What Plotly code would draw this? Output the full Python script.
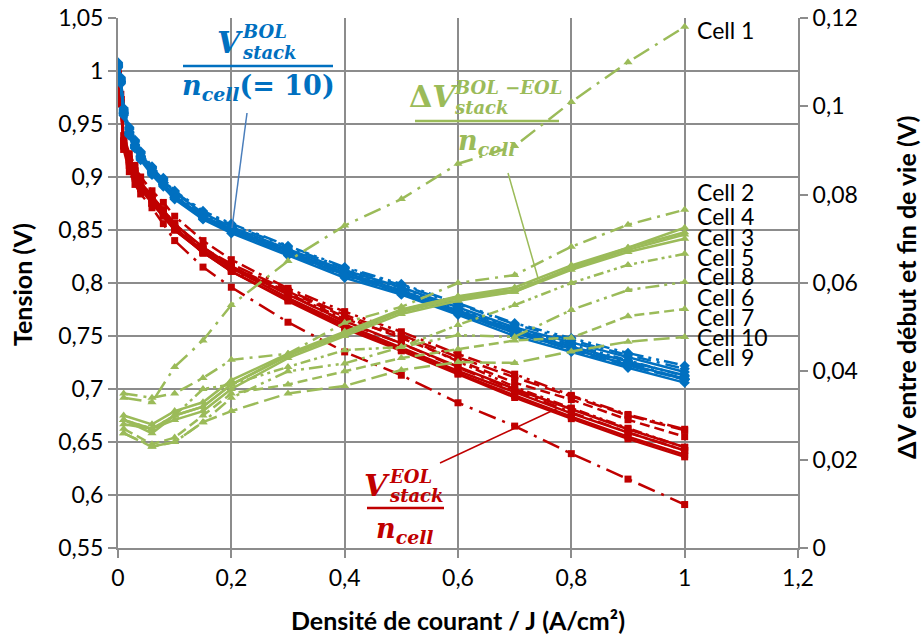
import plotly.graph_objects as go

# ---------------- data ----------------
J = [0, 0.005, 0.01, 0.02, 0.03, 0.04, 0.06, 0.08, 0.1, 0.15, 0.2, 0.3, 0.4, 0.5, 0.6, 0.7, 0.8, 0.9, 1.0]
J_DV = [0.01, 0.06, 0.1, 0.15, 0.2, 0.3, 0.4, 0.5, 0.6, 0.7, 0.8, 0.9, 1.0]

BOL_1 = [1.004, 0.990, 0.960, 0.940, 0.928, 0.918, 0.904, 0.893, 0.881, 0.862, 0.851, 0.828, 0.808, 0.792, 0.774, 0.756, 0.740, 0.725, 0.709]
BOL_2 = [1.007, 0.993, 0.964, 0.946, 0.934, 0.923, 0.909, 0.898, 0.886, 0.867, 0.855, 0.834, 0.814, 0.798, 0.780, 0.761, 0.746, 0.732, 0.719]
BOL_3 = [1.005, 0.990, 0.961, 0.942, 0.930, 0.919, 0.905, 0.894, 0.882, 0.863, 0.851, 0.830, 0.810, 0.793, 0.774, 0.755, 0.740, 0.726, 0.713]
BOL_4 = [1.004, 0.989, 0.960, 0.941, 0.929, 0.918, 0.904, 0.893, 0.881, 0.862, 0.849, 0.828, 0.808, 0.791, 0.772, 0.753, 0.738, 0.723, 0.710]
BOL_5 = [1.003, 0.988, 0.958, 0.939, 0.927, 0.916, 0.902, 0.891, 0.879, 0.860, 0.847, 0.826, 0.805, 0.789, 0.770, 0.750, 0.735, 0.720, 0.706]
BOL_6 = [1.008, 0.994, 0.965, 0.947, 0.935, 0.924, 0.910, 0.899, 0.887, 0.868, 0.856, 0.835, 0.815, 0.799, 0.781, 0.762, 0.748, 0.734, 0.722]
BOL_7 = [1.005, 0.990, 0.961, 0.942, 0.930, 0.919, 0.905, 0.893, 0.881, 0.862, 0.850, 0.829, 0.808, 0.791, 0.772, 0.753, 0.738, 0.723, 0.709]
BOL_8 = [1.006, 0.991, 0.962, 0.943, 0.931, 0.920, 0.906, 0.895, 0.883, 0.864, 0.852, 0.831, 0.811, 0.795, 0.776, 0.757, 0.742, 0.727, 0.712]
BOL_9 = [1.006, 0.992, 0.963, 0.945, 0.933, 0.922, 0.908, 0.897, 0.885, 0.866, 0.853, 0.832, 0.812, 0.796, 0.777, 0.758, 0.744, 0.730, 0.716]
BOL_10 = [1.004, 0.989, 0.959, 0.940, 0.928, 0.917, 0.903, 0.892, 0.880, 0.861, 0.849, 0.828, 0.807, 0.791, 0.772, 0.753, 0.737, 0.722, 0.709]

EOL_1 = [0.990, 0.970, 0.926, 0.905, 0.893, 0.884, 0.871, 0.856, 0.840, 0.815, 0.796, 0.763, 0.735, 0.713, 0.687, 0.665, 0.639, 0.615, 0.591]
EOL_2 = [0.997, 0.973, 0.929, 0.911, 0.899, 0.889, 0.875, 0.864, 0.851, 0.829, 0.812, 0.790, 0.763, 0.743, 0.720, 0.699, 0.678, 0.659, 0.642]
EOL_3 = [0.995, 0.970, 0.932, 0.914, 0.902, 0.892, 0.878, 0.866, 0.852, 0.831, 0.814, 0.786, 0.761, 0.739, 0.717, 0.697, 0.677, 0.659, 0.642]
EOL_4 = [0.994, 0.969, 0.930, 0.912, 0.900, 0.890, 0.876, 0.864, 0.850, 0.829, 0.811, 0.784, 0.759, 0.737, 0.715, 0.694, 0.674, 0.655, 0.638]
EOL_5 = [0.993, 0.969, 0.930, 0.911, 0.900, 0.889, 0.875, 0.863, 0.850, 0.829, 0.811, 0.783, 0.757, 0.736, 0.714, 0.692, 0.672, 0.653, 0.636]
EOL_6 = [1.000, 0.978, 0.939, 0.922, 0.911, 0.900, 0.887, 0.876, 0.863, 0.840, 0.822, 0.795, 0.773, 0.754, 0.733, 0.714, 0.694, 0.676, 0.662]
EOL_7 = [0.997, 0.973, 0.934, 0.916, 0.905, 0.895, 0.882, 0.869, 0.856, 0.832, 0.815, 0.792, 0.768, 0.748, 0.727, 0.706, 0.690, 0.671, 0.655]
EOL_8 = [0.997, 0.973, 0.933, 0.915, 0.903, 0.893, 0.879, 0.867, 0.853, 0.828, 0.815, 0.790, 0.766, 0.750, 0.726, 0.702, 0.682, 0.663, 0.645]
EOL_9 = [0.996, 0.973, 0.934, 0.917, 0.906, 0.895, 0.882, 0.869, 0.855, 0.834, 0.816, 0.789, 0.764, 0.743, 0.721, 0.700, 0.681, 0.662, 0.645]
EOL_10 = [0.996, 0.973, 0.933, 0.915, 0.904, 0.894, 0.880, 0.869, 0.856, 0.833, 0.818, 0.793, 0.770, 0.751, 0.730, 0.711, 0.693, 0.675, 0.661]

DV_1 = [0.034, 0.033, 0.041, 0.047, 0.055, 0.065, 0.073, 0.079, 0.087, 0.091, 0.101, 0.110, 0.118]
DV_2 = [0.035, 0.034, 0.035, 0.0385, 0.0426, 0.044, 0.051, 0.0546, 0.060, 0.0618, 0.0682, 0.0732, 0.0766]
DV_3 = [0.029, 0.027, 0.030, 0.032, 0.037, 0.0437, 0.0487, 0.0539, 0.0569, 0.0584, 0.0634, 0.0675, 0.071]
DV_4 = [0.030, 0.028, 0.031, 0.033, 0.038, 0.044, 0.049, 0.054, 0.057, 0.059, 0.064, 0.068, 0.0725]
DV_5 = [0.028, 0.027, 0.029, 0.031, 0.036, 0.043, 0.048, 0.053, 0.056, 0.058, 0.063, 0.067, 0.070]
DV_6 = [0.026, 0.023, 0.024, 0.0285, 0.034, 0.040, 0.0418, 0.0455, 0.0482, 0.0478, 0.0539, 0.0584, 0.0602]
DV_7 = [0.027, 0.0235, 0.025, 0.030, 0.035, 0.037, 0.040, 0.043, 0.045, 0.047, 0.0476, 0.0525, 0.0541]
DV_8 = [0.029, 0.027, 0.030, 0.036, 0.037, 0.041, 0.0448, 0.0455, 0.0505, 0.055, 0.060, 0.0641, 0.0666]
DV_9 = [0.029, 0.026, 0.030, 0.032, 0.037, 0.0435, 0.0485, 0.0535, 0.0565, 0.058, 0.0635, 0.068, 0.0715]
DV_10 = [0.026, 0.0229, 0.024, 0.0285, 0.031, 0.035, 0.0367, 0.0403, 0.0421, 0.0419, 0.0445, 0.0467, 0.0478]

CELL_NAMES = ["Cell 1", "Cell 2", "Cell 3", "Cell 4", "Cell 5", "Cell 6", "Cell 7", "Cell 8", "Cell 9", "Cell 10"]
BOL = [BOL_1, BOL_2, BOL_3, BOL_4, BOL_5, BOL_6, BOL_7, BOL_8, BOL_9, BOL_10]
EOL = [EOL_1, EOL_2, EOL_3, EOL_4, EOL_5, EOL_6, EOL_7, EOL_8, EOL_9, EOL_10]
DV = [DV_1, DV_2, DV_3, DV_4, DV_5, DV_6, DV_7, DV_8, DV_9, DV_10]

X_TICKS = [0, 0.2, 0.4, 0.6, 0.8, 1.0, 1.2]
X_TICK_TEXT = ["0", "0,2", "0,4", "0,6", "0,8", "1", "1,2"]
Y_TICKS = [0.55, 0.6, 0.65, 0.7, 0.75, 0.8, 0.85, 0.9, 0.95, 1.0, 1.05]
Y_TICK_TEXT = ["0,55", "0,6", "0,65", "0,7", "0,75", "0,8", "0,85", "0,9", "0,95", "1", "1,05"]
Y2_TICKS = [0, 0.02, 0.04, 0.06, 0.08, 0.1, 0.12]
Y2_TICK_TEXT = ["0", "0,02", "0,04", "0,06", "0,08", "0,1", "0,12"]

# ---------------- styles ----------------
BLUE = "#0070C0"
RED = "#C00000"
GREEN = "#9BBB59"
GRID = "#8C8C8C"
DASHES = ["18px,7px,3px,7px", "14px,6px,3px,6px", "solid", "solid", "solid",
          "14px,5px,3px,5px,3px,5px", "10px,5px", "10px,4px,3px,4px,3px,4px", "solid", "16px,6px"]
FONT = "Lato, 'Open Sans', sans-serif"
MATH = "DejaVu Serif, serif"

fig = go.Figure()

for i in range(10):
    fig.add_trace(go.Scatter(x=J, y=EOL[i], mode="lines+markers", name=CELL_NAMES[i] + " EOL",
                             line=dict(color=RED, width=2.5, dash=DASHES[i]),
                             marker=dict(symbol="square", size=7, color=RED), yaxis="y"))
for i in range(10):
    fig.add_trace(go.Scatter(x=J, y=BOL[i], mode="lines+markers", name=CELL_NAMES[i] + " BOL",
                             line=dict(color=BLUE, width=2.5, dash=DASHES[i]),
                             marker=dict(symbol="diamond", size=8, color=BLUE), yaxis="y"))
for i in range(10):
    fig.add_trace(go.Scatter(x=J_DV, y=DV[i], mode="lines+markers", name=CELL_NAMES[i] + " dV",
                             line=dict(color=GREEN, width=2.5, dash=DASHES[i]),
                             marker=dict(symbol="triangle-up", size=8, color=GREEN), yaxis="y2"))

# pixel -> paper helpers (plot area 118..798 x 18..548)
L, R, T, B = 118, 798, 18, 548
def px(x):
    return (x - L) / (R - L)
def py(y):
    return (B - y) / (B - T)

ann = []
def txt(x, y, s, size, color, font=MATH, xanchor="center", angle=0):
    ann.append(dict(x=px(x), y=py(y), xref="paper", yref="paper", text=s, showarrow=False,
                    xanchor=xanchor, yanchor="middle", textangle=angle,
                    font=dict(family=font, size=size, color=color)))

shapes = []
def seg(x0, y0, x1, y1, color, width):
    shapes.append(dict(type="line", xref="paper", yref="paper", x0=px(x0), y0=py(y0),
                       x1=px(x1), y1=py(y1), line=dict(color=color, width=width)))

# Blue label
txt(230, 43, "<b><i>V</i></b>", 30, BLUE)
txt(240, 32, "<b><i>BOL</i></b>", 18, BLUE, xanchor="left")
txt(240, 53, "<b><i>stack</i></b>", 18, BLUE, xanchor="left")
seg(183, 66, 333, 66, BLUE, 2.5)
txt(258, 88, "<b><i>n</i></b><sub><b><i>cell</i></b></sub><b>(= 10)</b>", 27, BLUE)
seg(247, 113, 232, 228, "#4A7EBB", 1.5)

# Green label
txt(433, 97, "<b>Δ<i>V</i></b>", 30, GREEN)
txt(452, 88, "<b><i>BOL −EOL</i></b>", 18, GREEN, xanchor="left")
txt(452, 108, "<b><i>stack</i></b>", 18, GREEN, xanchor="left")
seg(415, 121, 559, 121, GREEN, 2.5)
txt(487, 143, "<b><i>n</i></b><sub><b><i>cell</i></b></sub>", 27, GREEN)
seg(508, 173, 538, 278, GREEN, 1.5)

# Red label
txt(377, 485, "<b><i>V</i></b>", 30, RED)
txt(387, 476, "<b><i>EOL</i></b>", 18, RED, xanchor="left")
txt(387, 495, "<b><i>stack</i></b>", 18, RED, xanchor="left")
seg(367, 508, 444, 508, RED, 2.5)
txt(405, 530, "<b><i>n</i></b><sub><b><i>cell</i></b></sub>", 27, RED)
seg(440, 463, 558, 408, RED, 1.5)

# Cell labels at the right end of the dV curves
CELL_LABEL_ORDER = ["Cell 1", "Cell 2", "Cell 4", "Cell 3", "Cell 5", "Cell 8", "Cell 6", "Cell 7", "Cell 10", "Cell 9"]
CELL_LABEL_PY = [30, 192, 216, 237, 257, 276, 297, 317, 337, 357]
for name, ypx in zip(CELL_LABEL_ORDER, CELL_LABEL_PY):
    txt(695, ypx, name, 23, "#000000", font=FONT, xanchor="left")

# Axis titles
txt(458, 620, "<b>Densité de courant / J (A/cm²)</b>", 25, "#000000", font=FONT)
txt(22, 285, "<b>Tension (V)</b>", 25, "#000000", font=FONT, angle=-90)
txt(906, 288, "<b>ΔV entre début et fin de vie (V)</b>", 25, "#000000", font=FONT, angle=-90)

axis_common = dict(showline=True, linecolor=GRID, linewidth=2, ticks="outside", ticklen=8,
                   tickcolor=GRID, tickwidth=2, tickfont=dict(family=FONT, size=23, color="#000000"),
                   zeroline=False, automargin=False)

fig.update_layout(
    width=923, height=639,
    margin=dict(l=L, r=923 - R, t=T, b=639 - B, autoexpand=False),
    paper_bgcolor="white", plot_bgcolor="white",
    showlegend=False,
    xaxis=dict(range=[0, 1.2], tickvals=X_TICKS, ticktext=X_TICK_TEXT, showgrid=True,
               gridcolor=GRID, gridwidth=2, **axis_common),
    yaxis=dict(range=[0.55, 1.05], tickvals=Y_TICKS, ticktext=Y_TICK_TEXT, showgrid=True,
               gridcolor=GRID, gridwidth=2, **axis_common),
    yaxis2=dict(range=[0, 0.12], tickvals=Y2_TICKS, ticktext=Y2_TICK_TEXT, overlaying="y",
                side="right", showgrid=False, **axis_common),
    annotations=ann,
    shapes=shapes,
)

fig.write_html("out.html", config={"displayModeBar": False},
               post_script="document.body.style.margin='0px';document.body.style.padding='0px';")
